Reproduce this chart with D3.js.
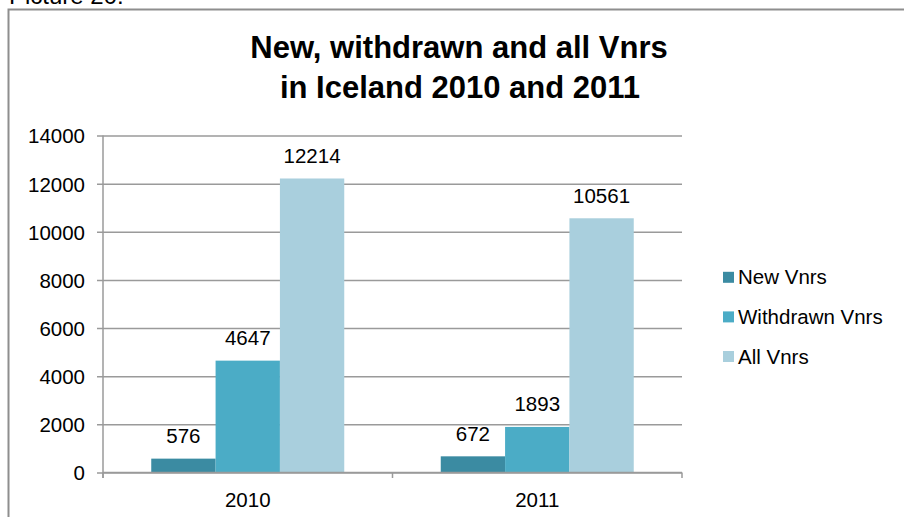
<!DOCTYPE html>
<html>
<head>
<meta charset="utf-8">
<script src="https://cdn.jsdelivr.net/npm/d3@7"></script>
<style>
  body { margin: 0; background: #fff; }
  svg { font-family: "Liberation Sans", Arial, sans-serif; display: block; }
</style>
</head>
<body>
<div id="chart"></div>
<script>
// Chart data
const years = ["2010", "2011"];
const seriesNames = ["New Vnrs", "Withdrawn Vnrs", "All Vnrs"];
const newVnrs = [576, 672];
const withdrawnVnrs = [4647, 1893];
const allVnrs = [12214, 10561];
const yTicks = [0, 2000, 4000, 6000, 8000, 10000, 12000, 14000];
const seriesColors = ["#3b8ba2", "#4bacc6", "#a9cfdd"];

const W = 904, H = 517;
const plot = { left: 103, right: 682, top: 135.5, bottom: 472.5 };

const svg = d3.select("#chart")
    .append("svg")
    .attr("width", W)
    .attr("height", H);

// Caption above the frame (cut off at the top, as in the source)
svg.append("text")
    .attr("x", 9)
    .attr("y", 4)
    .style("font-size", "24px")
    .attr("fill", "#000")
    .text("Picture 20:");

// Chart frame, running off the right and bottom edges
svg.append("rect")
    .attr("x", 8.5)
    .attr("y", 9.5)
    .attr("width", 1000)
    .attr("height", 1000)
    .attr("fill", "none")
    .attr("stroke", "#8e8e8e")
    .attr("stroke-width", 2);

// Title
const title = svg.append("text")
    .attr("text-anchor", "middle")
    .style("font-size", "31px")
    .style("font-weight", "bold");
title.append("tspan").attr("x", 459).attr("y", 58).text("New, withdrawn and all Vnrs");
title.append("tspan").attr("x", 460).attr("y", 98).text("in Iceland 2010 and 2011");

// Scales
const x0 = d3.scaleBand()
    .domain(years)
    .range([plot.left, plot.right]);

const bw = x0.bandwidth();
const gap = bw / 4.5 * 0.75;
const x1 = d3.scaleBand()
    .domain(seriesNames)
    .range([gap, bw - gap]);

const y = d3.scaleLinear()
    .domain([0, 14000])
    .range([plot.bottom, plot.top]);

const color = d3.scaleOrdinal().domain(seriesNames).range(seriesColors);

// Gridlines and y axis
const yAxis = svg.append("g")
    .attr("transform", `translate(${plot.left},0)`)
    .call(d3.axisLeft(y).tickValues(yTicks).tickFormat(d3.format("d")).tickSize(6).tickPadding(12));
yAxis.select(".domain").remove();
yAxis.selectAll(".tick line")
    .attr("x1", -6)
    .attr("x2", plot.right - plot.left)
    .attr("stroke", "#9a9a9a")
    .attr("stroke-width", 1.5);
yAxis.selectAll(".tick text")
    .style("font-size", "20.5px")
    .attr("fill", "#000")
    .attr("dy", "0.36em");

// Bars
const rows = years.map((yr, i) => ({
    year: yr,
    values: [newVnrs[i], withdrawnVnrs[i], allVnrs[i]]
}));

const groups = svg.selectAll(".group")
    .data(rows)
    .enter()
    .append("g")
    .attr("transform", d => `translate(${x0(d.year)},0)`);

groups.selectAll("rect")
    .data(d => d.values.map((v, j) => ({ name: seriesNames[j], value: v })))
    .enter()
    .append("rect")
    .attr("x", d => x1(d.name))
    .attr("y", d => y(d.value))
    .attr("width", x1.bandwidth())
    .attr("height", d => y(0) - y(d.value))
    .attr("fill", d => color(d.name));

// Value labels
groups.selectAll(".val")
    .data(d => d.values.map((v, j) => ({ name: seriesNames[j], value: v })))
    .enter()
    .append("text")
    .attr("x", d => x1(d.name) + x1.bandwidth() / 2)
    .attr("y", d => y(d.value) - 15.5)
    .attr("text-anchor", "middle")
    .style("font-size", "20.5px")
    .text(d => d.value);

// Left axis line
svg.append("line")
    .attr("x1", plot.left).attr("x2", plot.left)
    .attr("y1", plot.top).attr("y2", plot.bottom + 5.5)
    .attr("stroke", "#9a9a9a")
    .attr("stroke-width", 1.5);

// Bottom axis
const xAxis = svg.append("g")
    .attr("transform", `translate(0,${plot.bottom})`)
    .call(d3.axisBottom(x0).tickSize(0).tickPadding(20));
xAxis.select(".domain").remove();
xAxis.selectAll(".tick text")
    .style("font-size", "20.5px")
    .attr("fill", "#000")
    .attr("dy", "0.71em");

// Category boundary ticks
const boundaries = [plot.left].concat(years.map(yr => x0(yr) + bw));
svg.selectAll(".ctick")
    .data(boundaries)
    .enter()
    .append("line")
    .attr("x1", d => d).attr("x2", d => d)
    .attr("y1", plot.bottom).attr("y2", plot.bottom + 5.5)
    .attr("stroke", "#9a9a9a")
    .attr("stroke-width", 1.5);

svg.append("line")
    .attr("x1", plot.left).attr("x2", plot.right)
    .attr("y1", plot.bottom).attr("y2", plot.bottom)
    .attr("stroke", "#9a9a9a")
    .attr("stroke-width", 1.5);

// Legend
const legend = svg.selectAll(".legend")
    .data(seriesNames)
    .enter()
    .append("g")
    .attr("transform", (d, i) => `translate(723,${284.3 + i * 39.6})`);

legend.append("rect")
    .attr("x", 0)
    .attr("y", -12.5)
    .attr("width", 11)
    .attr("height", 11)
    .attr("fill", d => color(d));

legend.append("text")
    .attr("x", 15)
    .attr("y", 0)
    .style("font-size", "20.5px")
    .text(d => d);
</script>
</body>
</html>
